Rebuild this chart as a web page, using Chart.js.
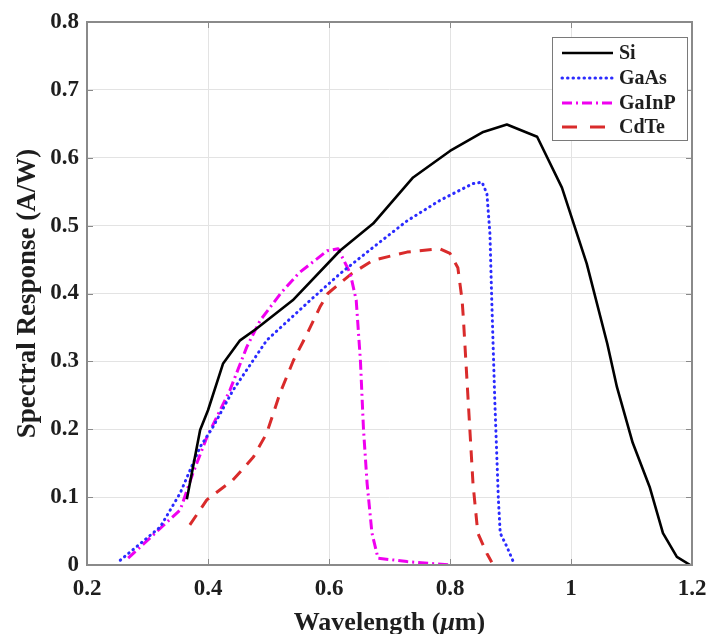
<!DOCTYPE html>
<html>
<head>
<meta charset="utf-8">
<script src="https://cdn.jsdelivr.net/npm/chart.js@4.4.1/dist/chart.umd.min.js"></script>
<style>
  html, body { margin: 0; padding: 0; background: #fff; }
</style>
</head>
<body>
<canvas id="chart" width="709" height="634"></canvas>
<script>
const xTicks = [0.2, 0.4, 0.6, 0.8, 1, 1.2];
const yTicks = [0, 0.1, 0.2, 0.3, 0.4, 0.5, 0.6, 0.7, 0.8];
const seriesNames = ["Si", "GaAs", "GaInP", "CdTe"];

const siWl = [0.365, 0.387, 0.40, 0.425, 0.453, 0.48, 0.54, 0.618, 0.673, 0.739, 0.80, 0.855, 0.894, 0.944, 0.985, 1.026, 1.06, 1.076, 1.102, 1.13, 1.152, 1.175, 1.197];
const siResp = [0.097, 0.199, 0.228, 0.297, 0.331, 0.348, 0.39, 0.463, 0.503, 0.571, 0.61, 0.638, 0.649, 0.631, 0.556, 0.444, 0.326, 0.262, 0.18, 0.115, 0.047, 0.012, 0];

const gaasWl = [0.255, 0.321, 0.354, 0.387, 0.408, 0.441, 0.497, 0.569, 0.618, 0.673, 0.729, 0.783, 0.838, 0.853, 0.861, 0.866, 0.869, 0.874, 0.88, 0.883, 0.894, 0.905];
const gaasResp = [0.007, 0.056, 0.106, 0.174, 0.203, 0.257, 0.331, 0.39, 0.429, 0.468, 0.507, 0.537, 0.562, 0.564, 0.547, 0.488, 0.39, 0.243, 0.096, 0.047, 0.027, 0.004];

const gainpWl = [0.268, 0.332, 0.354, 0.375, 0.398, 0.436, 0.464, 0.486, 0.52, 0.55, 0.597, 0.615, 0.635, 0.645, 0.652, 0.657, 0.663, 0.671, 0.681, 0.729, 0.80];
const gainpResp = [0.01, 0.063, 0.081, 0.135, 0.188, 0.257, 0.321, 0.36, 0.40, 0.43, 0.463, 0.466, 0.43, 0.39, 0.3, 0.2, 0.12, 0.047, 0.01, 0.005, 0.0];

const cdteWl = [0.370, 0.398, 0.441, 0.475, 0.497, 0.519, 0.541, 0.564, 0.585, 0.598, 0.637, 0.673, 0.729, 0.783, 0.80, 0.813, 0.82, 0.822, 0.83, 0.838, 0.846, 0.861, 0.869];
const cdteResp = [0.059, 0.096, 0.125, 0.159, 0.194, 0.253, 0.301, 0.341, 0.38, 0.40, 0.429, 0.449, 0.461, 0.466, 0.459, 0.438, 0.39, 0.365, 0.243, 0.12, 0.047, 0.017, 0.004];

const FONT = '"Liberation Serif", "Times New Roman", serif';
const TEXT = "#1e1e1e";

const styles = [
  { color: "#000000", dash: [], cap: "butt", width: 2.6 },
  { color: "#2b2bff", dash: [0.5, 5], cap: "round", width: 3 },
  { color: "#f000f0", dash: [10, 4, 2, 4], cap: "butt", width: 3 },
  { color: "#d92b2b", dash: [12, 9], cap: "butt", width: 3 },
];

function toPoints(xs, ys) {
  return xs.map((x, i) => ({ x, y: ys[i] }));
}

const allData = [
  toPoints(siWl, siResp),
  toPoints(gaasWl, gaasResp),
  toPoints(gainpWl, gainpResp),
  toPoints(cdteWl, cdteResp),
];

const datasets = seriesNames.map((name, i) => ({
  label: name,
  data: allData[i],
  borderColor: styles[i].color,
  borderWidth: styles[i].width,
  borderDash: styles[i].dash,
  borderCapStyle: styles[i].cap,
  borderJoinStyle: "round",
  pointRadius: 0,
  fill: false,
  tension: 0,
}));

// box, inward ticks, titles
const frame = {
  id: "frame",
  afterDatasetsDraw(chart) {
    const { ctx, chartArea: a, scales: { x, y } } = chart;
    ctx.save();
    ctx.strokeStyle = "#8a8a8a";
    ctx.lineWidth = 1;
    ctx.beginPath();
    xTicks.forEach((v) => {
      const px = Math.round(x.getPixelForValue(v)) + 0.5;
      ctx.moveTo(px, a.bottom); ctx.lineTo(px, a.bottom - 6);
      ctx.moveTo(px, a.top); ctx.lineTo(px, a.top + 6);
    });
    yTicks.forEach((v) => {
      const py = Math.round(y.getPixelForValue(v)) + 0.5;
      ctx.moveTo(a.left, py); ctx.lineTo(a.left + 6, py);
      ctx.moveTo(a.right, py); ctx.lineTo(a.right - 6, py);
    });
    ctx.stroke();
    ctx.lineWidth = 2;
    ctx.strokeRect(a.left, a.top, a.right - a.left, a.bottom - a.top);
    ctx.restore();
  },
  afterDraw(chart) {
    const { ctx, chartArea: a } = chart;
    ctx.save();
    ctx.fillStyle = TEXT;

    // y title
    ctx.translate(28, (a.top + a.bottom) / 2);
    ctx.rotate(-Math.PI / 2);
    ctx.font = "bold 27px " + FONT;
    ctx.textAlign = "center";
    ctx.textBaseline = "middle";
    ctx.fillText("Spectral Response (A/W)", 0, 0);
    ctx.setTransform(1, 0, 0, 1, 0, 0);

    // x title with italic mu
    const parts = [
      ["Wavelength (", "bold 26px " + FONT],
      ["\u03bc", "italic bold 26px " + FONT],
      ["m)", "bold 26px " + FONT],
    ];
    let total = 0;
    parts.forEach(([t, f]) => { ctx.font = f; total += ctx.measureText(t).width; });
    let cx = (a.left + a.right) / 2 - total / 2;
    ctx.textAlign = "left";
    ctx.textBaseline = "alphabetic";
    parts.forEach(([t, f]) => {
      ctx.font = f;
      ctx.fillText(t, cx, 630);
      cx += ctx.measureText(t).width;
    });

    // legend
    const bw = 135, bh = 103;
    const bx = a.right - 5 - bw, by = a.top + 15;
    ctx.fillStyle = "#ffffff";
    ctx.fillRect(bx, by, bw, bh);
    ctx.strokeStyle = "#7a7a7a";
    ctx.lineWidth = 1;
    ctx.strokeRect(bx + 0.5, by + 0.5, bw, bh);
    const rows = [16, 41, 66, 90];
    ctx.font = "bold 20px " + FONT;
    ctx.textBaseline = "middle";
    seriesNames.forEach((name, i) => {
      const ry = by + rows[i];
      const s = styles[i];
      ctx.save();
      ctx.strokeStyle = s.color;
      ctx.lineWidth = s.width;
      ctx.lineCap = s.cap;
      ctx.setLineDash(i === 3 ? [15, 13] : s.dash);
      ctx.beginPath();
      ctx.moveTo(bx + 10, ry);
      ctx.lineTo(bx + 61, ry);
      ctx.stroke();
      ctx.restore();
      ctx.fillStyle = TEXT;
      ctx.fillText(name, bx + 67, ry + 1);
    });
    ctx.restore();
  },
};

new Chart(document.getElementById("chart"), {
  type: "line",
  data: { datasets },
  options: {
    responsive: false,
    animation: false,
    layout: { padding: { left: 0, right: 17, top: 22, bottom: 0 } },
    plugins: { legend: { display: false }, tooltip: { enabled: false } },
    scales: {
      x: {
        type: "linear",
        min: 0.2,
        max: 1.2,
        afterBuildTicks: (s) => { s.ticks = xTicks.map((v) => ({ value: v })); },
        afterFit: (s) => { s.height = 69; s.paddingLeft = 0; s.paddingRight = 0; },
        ticks: {
          padding: 10,
          color: TEXT,
          font: { family: FONT, size: 23, weight: "bold" },
          maxRotation: 0,
          callback: (v) => String(Math.round(v * 10) / 10),
        },
        grid: { color: "#e3e3e3", lineWidth: 1, drawTicks: false },
        border: { display: false },
      },
      y: {
        type: "linear",
        min: 0,
        max: 0.8,
        afterBuildTicks: (s) => { s.ticks = yTicks.map((v) => ({ value: v })); },
        afterFit: (s) => { s.width = 87; s.paddingTop = 0; s.paddingBottom = 0; },
        ticks: {
          padding: 8,
          color: TEXT,
          font: { family: FONT, size: 23, weight: "bold" },
          callback: (v) => String(Math.round(v * 10) / 10),
        },
        grid: { color: "#e3e3e3", lineWidth: 1, drawTicks: false },
        border: { display: false },
      },
    },
  },
  plugins: [frame],
});
</script>
</body>
</html>
